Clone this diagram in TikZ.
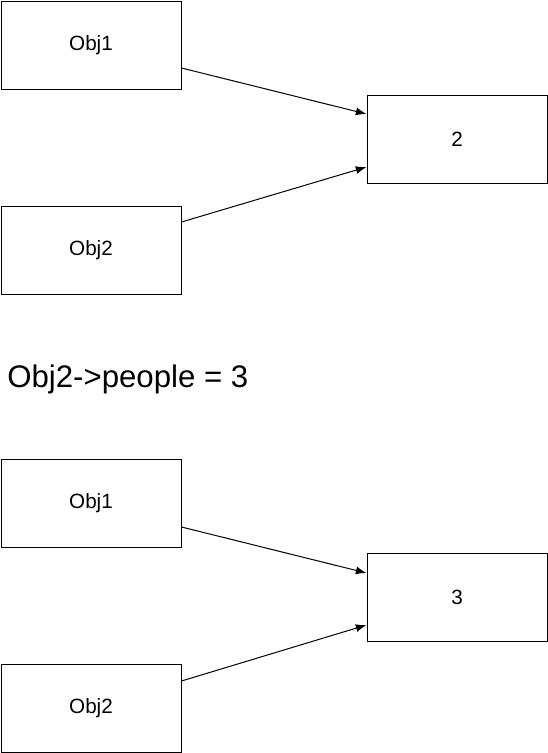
\documentclass[tikz,border=0pt]{standalone}
\usepackage{fontspec}
\setmainfont{Liberation Sans}
\usetikzlibrary{arrows.meta}

\tikzset{
  objbox/.style={draw, line width=0.75pt, minimum width=135pt, minimum height=66pt, inner sep=0pt, font=\fontsize{15.5pt}{18pt}\selectfont},
  link/.style={line width=0.75pt, -{Latex[length=8pt,width=6pt]}}
}

\begin{document}
\begin{tikzpicture}[x=0.75pt, y=-0.75pt]
\useasboundingbox (0,0) rectangle (548,753);

% before
\node [objbox] (o1a) at (91,45)  {Obj1};
\node [objbox] (o2a) at (91,250) {Obj2};
\node [objbox] (va)  at (457,139) {2};

\node [anchor=base west, inner sep=0pt, font=\fontsize{23.4pt}{27pt}\selectfont] (title) at (7,387) {Obj2->people = 3};

% after
\node [objbox] (o1b) at (91,503)  {Obj1};
\node [objbox] (o2b) at (91,708) {Obj2};
\node [objbox] (vb)  at (457,597) {3};

\begin{scope}[link]
\draw ([yshift=-17.25pt]o1a.east) -- ([yshift=18.75pt]va.west);
\draw ([yshift=21pt]o2a.east) -- ([yshift=-21pt]va.west);
\draw ([yshift=-18pt]o1b.east) -- ([yshift=18pt]vb.west);
\draw ([yshift=20.25pt]o2b.east) -- ([yshift=-21pt]vb.west);
\end{scope}

\end{tikzpicture}
\end{document}
